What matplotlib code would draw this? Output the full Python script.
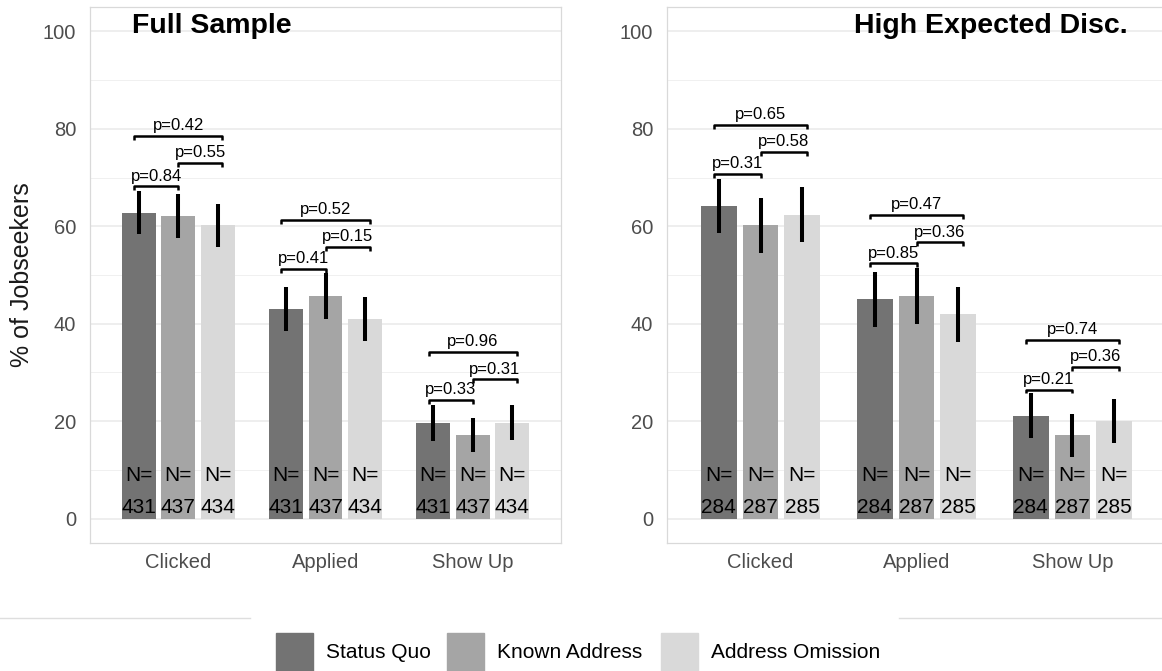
import numpy as np
import matplotlib
matplotlib.use("Agg")
import matplotlib.pyplot as plt
from matplotlib.patches import Rectangle
from matplotlib.lines import Line2D

plt.rcParams['font.family'] = ['Liberation Sans', 'DejaVu Sans']

categories = ['Clicked', 'Applied', 'Show Up']
treatments = ['Status Quo', 'Known Address', 'Address Omission']
colors = ['#737373', '#a5a5a5', '#d9d9d9']

# bar heights (% of jobseekers), rows = categories, cols = treatments
full_vals = [[62.8, 62.1, 60.2], [43.0, 45.7, 40.9], [19.6, 17.1, 19.7]]
full_err = [[4.45, 4.5, 4.45], [4.5, 4.65, 4.5], [3.65, 3.5, 3.65]]
full_n = [431, 437, 434]
full_p = [['0.84', '0.55', '0.42'], ['0.41', '0.15', '0.52'], ['0.33', '0.31', '0.96']]
full_brk = [[68.2, 73.0, 78.5], [51.3, 55.8, 61.3], [24.3, 28.6, 34.2]]

high_vals = [[64.2, 60.2, 62.4], [45.0, 45.7, 41.9], [21.1, 17.1, 20.1]]
high_err = [[5.6, 5.65, 5.65], [5.65, 5.7, 5.6], [4.65, 4.45, 4.5]]
high_n = [284, 287, 285]
high_p = [['0.31', '0.58', '0.65'], ['0.85', '0.36', '0.47'], ['0.21', '0.36', '0.74']]
high_brk = [[70.7, 75.2, 80.8], [52.4, 56.7, 62.3], [26.5, 31.1, 36.7]]

pairs = [(0, 1), (1, 2), (0, 2)]
offsets = np.array([-0.268, 0.0, 0.268])
brk_x = np.array([-0.3, 0.0, 0.3])
bar_w = 0.23

W, H = 1162, 671
fig = plt.figure(figsize=(W / 100, H / 100), dpi=100)


def panel(rect, vals, err, ns, pvals, brks, title, title_x):
    ax = fig.add_axes(rect)
    x = np.arange(1, len(categories) + 1)
    vals = np.array(vals)
    err = np.array(err)
    for j in range(len(treatments)):
        ax.bar(x + offsets[j], vals[:, j], width=bar_w, color=colors[j], zorder=2)
        ax.vlines(x + offsets[j], vals[:, j] - err[:, j], vals[:, j] + err[:, j],
                  color='black', lw=2.9, zorder=3)
        for i in range(len(categories)):
            ax.text(x[i] + offsets[j], 8.8, 'N=', ha='center', va='center', fontsize=15, zorder=4)
            ax.text(x[i] + offsets[j], 2.3, str(ns[j]), ha='center', va='center', fontsize=15, zorder=4)
    for i in range(len(categories)):
        for k, (a, b) in enumerate(pairs):
            x0 = x[i] + brk_x[a]
            x1 = x[i] + brk_x[b]
            yb = brks[i][k]
            ax.plot([x0, x0, x1, x1], [yb - 0.8, yb, yb, yb - 0.8], color='black', lw=1.8,
                    solid_capstyle='butt', zorder=4)
            ax.text((x0 + x1) / 2, yb + 2.1, 'p=' + pvals[i][k], ha='center', va='center',
                    fontsize=12, zorder=4)
    ax.set_xlim(0.4, 3.6)
    ax.set_ylim(-5, 105)
    ax.set_xticks(x)
    ax.set_xticklabels(categories)
    ax.set_yticks(np.arange(0, 101, 20))
    ax.set_yticks(np.arange(10, 100, 20), minor=True)
    ax.tick_params(axis='both', which='both', length=0, labelsize=14.5, labelcolor='#4d4d4d')
    ax.tick_params(axis='y', pad=10)
    ax.tick_params(axis='x', pad=7)
    ax.grid(axis='y', which='major', color='#ebebeb', lw=1.2, zorder=0)
    ax.grid(axis='y', which='minor', color='#f0f0f0', lw=0.7, zorder=0)
    ax.set_axisbelow(True)
    for s in ax.spines.values():
        s.set_color('#d9d9d9')
        s.set_linewidth(0.9)
    ax.text(title_x, 99.6, title, ha='left', va='baseline', fontsize=20.5, fontweight='bold')
    return ax


panel([90 / W, 128 / H, 471 / W, 536 / H], full_vals, full_err, full_n, full_p, full_brk,
      'Full Sample', 0.685)
panel([667 / W, 128 / H, 499 / W, 536 / H], high_vals, high_err, high_n, high_p, high_brk,
      'High Expected Disc.', 1.596)

fig.text(22 / W, 1 - 275 / H, '% of Jobseekers', rotation=90, ha='center', va='center',
         fontsize=18, color='#1a1a1a')

# legend area
ly = 1 - 618 / H
fig.add_artist(Line2D([0, 250 / W], [ly, ly], color='#dedede', lw=1))
fig.add_artist(Line2D([899 / W, 1], [ly, ly], color='#dedede', lw=1))
key_x = [276, 447, 661]
for j, lab in enumerate(treatments):
    fig.add_artist(Rectangle((key_x[j] / W, 0), 37 / W, (671 - 633) / H, color=colors[j],
                             transform=fig.transFigure))
    fig.text((key_x[j] + 50) / W, 1 - 653 / H, lab, ha='left', va='center', fontsize=15)

fig.savefig('out.png', dpi=100)
